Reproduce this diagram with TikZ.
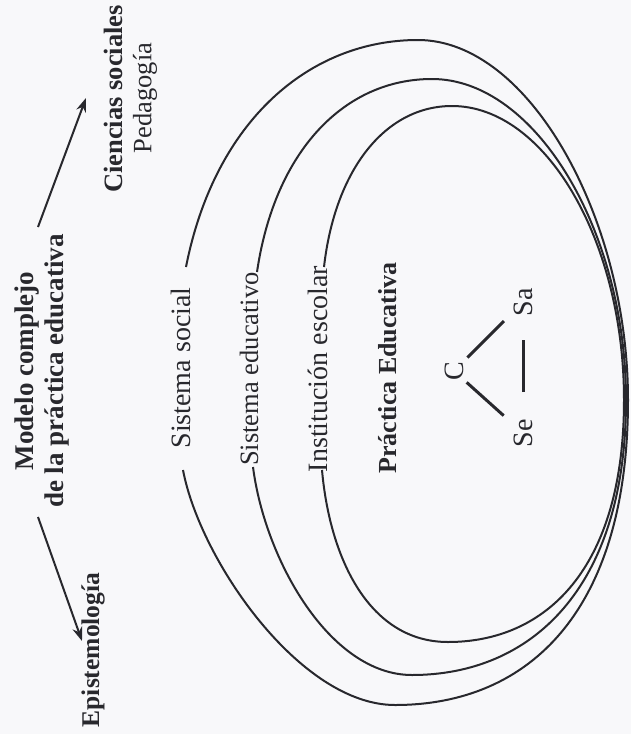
\documentclass[tikz,border=0pt]{standalone}
\usepackage{fontspec}
\setmainfont{Liberation Serif}
\usetikzlibrary{arrows.meta}
\definecolor{ink}{RGB}{40,40,45}
\definecolor{paper}{RGB}{248,248,250}
\tikzset{
  x=1pt, y=-1pt,
  lbl/.style={rotate=90, inner sep=0pt, text=ink, font=\fontsize{28}{30}\selectfont},
  blbl/.style={lbl, font=\fontsize{27}{30}\selectfont\bfseries},
  ring/.style={draw=ink, line width=2pt},
  arr/.style={draw=ink, line width=2pt, -{Stealth[length=14pt,width=10pt]}},
  tri/.style={draw=ink, line width=3pt},
}
\begin{document}
\begin{tikzpicture}
\fill[paper] (0,0) rectangle (631,734);
\useasboundingbox (0,0) rectangle (631,734);

% texts
\node[blbl, align=center] (title) at (42,371) {Modelo complejo\\de la práctica educativa};
\node[blbl, font=\fontsize{25.5}{30}\selectfont\bfseries] (epis) at (93,650) {Epistemología};
\node[blbl, font=\fontsize{26.5}{30}\selectfont\bfseries] (cien) at (113,99) {Ciencias sociales};
\node[lbl, font=\fontsize{26.5}{30}\selectfont] (peda) at (145,98) {Pedagogía};
\node[lbl] (ssoc) at (181,368) {Sistema social};
\node[lbl, font=\fontsize{26.5}{30}\selectfont] (sedu) at (249,369) {Sistema educativo};
\node[lbl] (inst) at (318,369) {Institución escolar};
\node[blbl, font=\fontsize{26}{30}\selectfont\bfseries] (prac) at (388,368) {Práctica Educativa};
\node[lbl] (C) at (454,371) {C};
\node[lbl] (Sa) at (523,302) {Sa};
\node[lbl] (Se) at (523,433) {Se};

% arrows
\coordinate (a1s) at (38,227);
\coordinate (a1e) at (86,98);
\coordinate (a2s) at (38,517);
\coordinate (a2e) at (82,641);
\draw[arr] (a1s) -- (a1e);
\draw[arr] (a2s) -- (a2e);

% rings
\draw[ring] (186,267) .. controls (215,120) and (310,40) .. (418,40)
  .. controls (530,40) and (628,220) .. (628,400)
  .. controls (628,610) and (530,705) .. (395,705)
  .. controls (300,705) and (200,560) .. (183,470);
\draw[ring] (257,272) .. controls (275,150) and (345,79) .. (432,79)
  .. controls (535,79) and (626,230) .. (626,400)
  .. controls (626,590) and (530,675) .. (412,675)
  .. controls (330,675) and (265,560) .. (253,467);
\draw[ring] (324,267) .. controls (335,170) and (385,106) .. (452,106)
  .. controls (545,106) and (624,240) .. (624,400)
  .. controls (624,570) and (545,642) .. (448,642)
  .. controls (370,642) and (330,560) .. (322,470);

% triangle
\draw[tri, shorten <=19pt, shorten >=27pt] (C.center) -- (Sa.center);
\draw[tri, shorten <=17pt, shorten >=26pt] (C.center) -- (Se.center);
\draw[tri, shorten <=41pt, shorten >=38pt] (Se.center) -- (Sa.center);
\end{tikzpicture}
\end{document}
